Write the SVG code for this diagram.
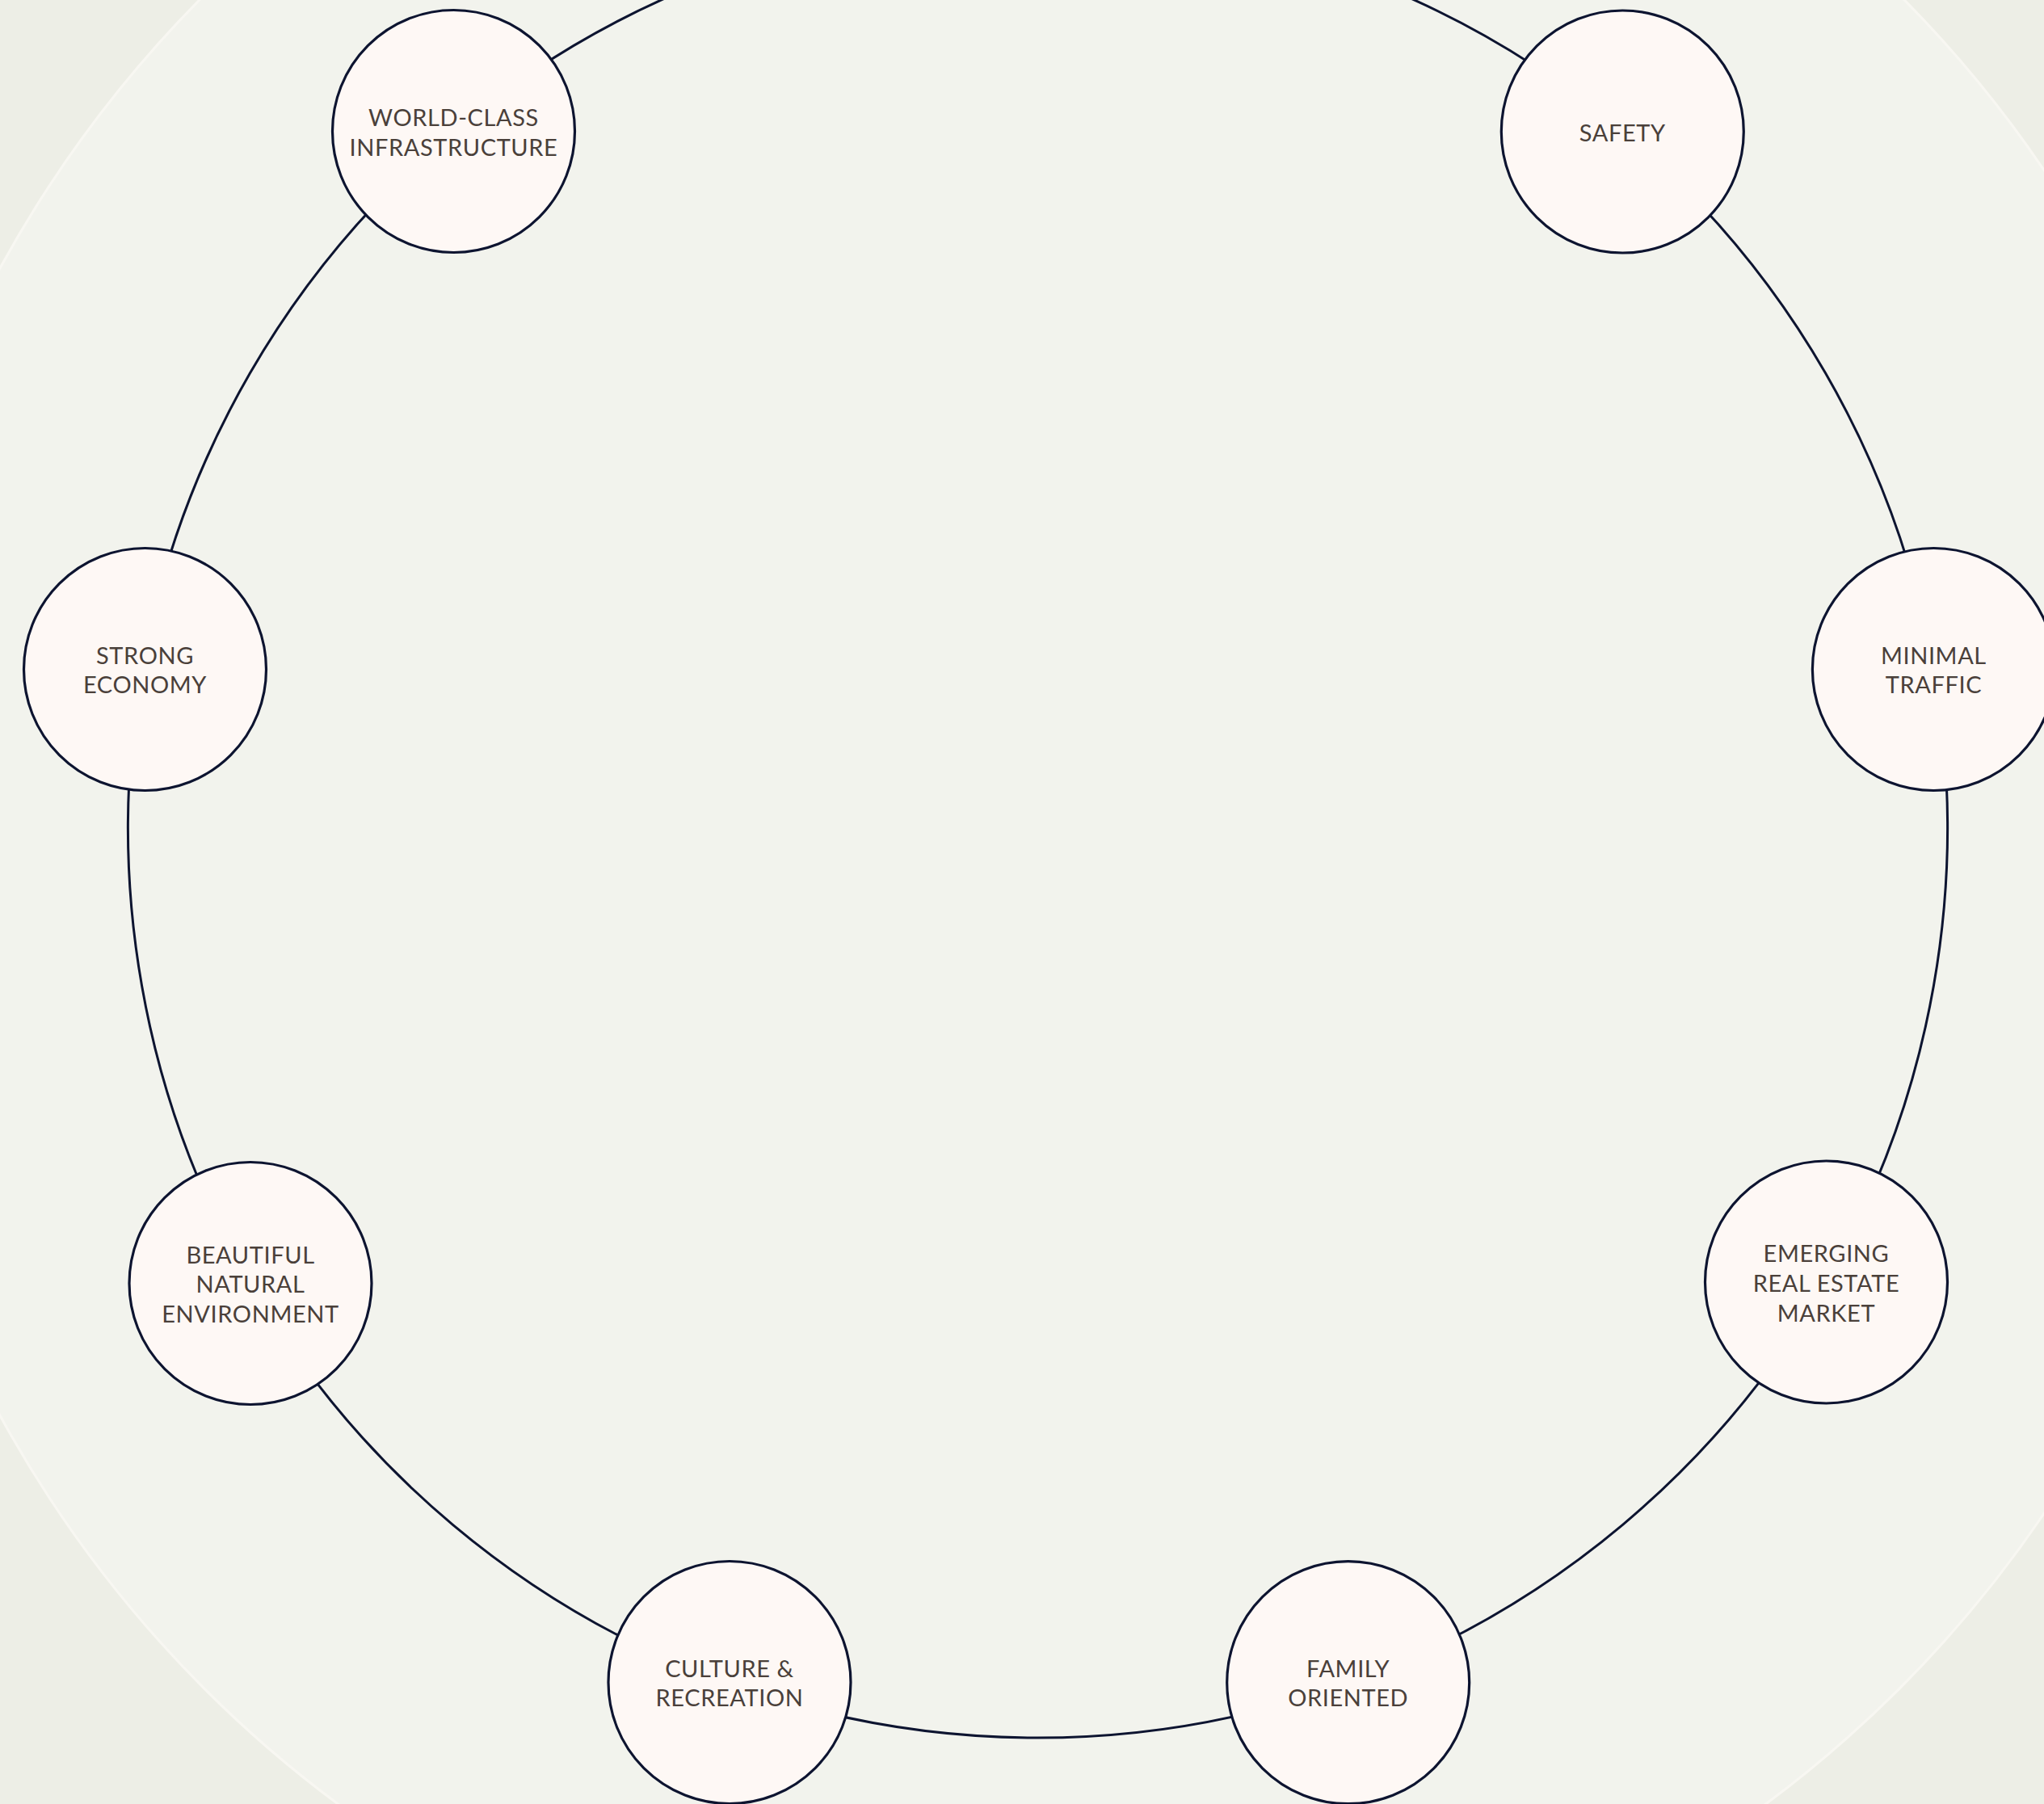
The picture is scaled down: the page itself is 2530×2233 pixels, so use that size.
<svg xmlns="http://www.w3.org/2000/svg" width="2530" height="2233" viewBox="0 0 2530 2233">
<style>
.node circle{fill:#FEF8F5;stroke:#0D1430;stroke-width:3.2}
.node text{font-family:Lato,"Open Sans","Liberation Sans",sans-serif;font-size:29px;fill:#4A403A;text-anchor:middle;letter-spacing:0.6px}
.ring path{fill:none;stroke:#0D1430;stroke-width:3}
</style>
<rect x="0" y="0" width="2530" height="2233" fill="#EDEEE6"/>
<circle cx="1302" cy="1042" r="1483" fill="#F2F3ED" stroke="#F8F7F2" stroke-width="3"/>
<g class="ring" id="connectors">
<path d="M560.7,162.5 A1126,1126 0 0 1 2008.3,162.5"/>
<path d="M2008.3,162.5 A1126,1126 0 0 1 2393.4,829.5"/>
<path d="M2393.4,829.5 A1126,1126 0 0 1 2259.6,1588"/>
<path d="M2259.6,1588 A1126,1126 0 0 1 1669.6,2083.1"/>
<path d="M1669.6,2083.1 A1126,1126 0 0 1 899.4,2083.1"/>
<path d="M899.4,2083.1 A1126,1126 0 0 1 309.4,1588"/>
<path d="M309.4,1588 A1126,1126 0 0 1 175.6,829.5"/>
<path d="M175.6,829.5 A1126,1126 0 0 1 560.7,162.5"/>
</g>
<g class="node" id="node-world-class">
<circle cx="561.5" cy="162.5" r="150"/>
<text x="561.5" y="155.5">WORLD-CLASS</text>
<text x="561.5" y="192.5">INFRASTRUCTURE</text>
</g>
<g class="node" id="node-safety">
<circle cx="2008.3" cy="163" r="150"/>
<text x="2008.3" y="175">SAFETY</text>
</g>
<g class="node" id="node-strong-economy">
<circle cx="179.5" cy="828.5" r="150"/>
<text x="179.5" y="821.5">STRONG</text>
<text x="179.5" y="858">ECONOMY</text>
</g>
<g class="node" id="node-minimal-traffic">
<circle cx="2393.4" cy="828.5" r="150"/>
<text x="2393.4" y="821.5">MINIMAL</text>
<text x="2393.4" y="858">TRAFFIC</text>
</g>
<g class="node" id="node-beautiful">
<circle cx="310" cy="1588.5" r="150"/>
<text x="310" y="1563.5">BEAUTIFUL</text>
<text x="310" y="1600">NATURAL</text>
<text x="310" y="1636.5">ENVIRONMENT</text>
</g>
<g class="node" id="node-emerging">
<circle cx="2260.5" cy="1587" r="150"/>
<text x="2260.5" y="1562.3">EMERGING</text>
<text x="2260.5" y="1599">REAL ESTATE</text>
<text x="2260.5" y="1635.7">MARKET</text>
</g>
<g class="node" id="node-culture">
<circle cx="903" cy="2082.5" r="150"/>
<text x="903" y="2075.5">CULTURE &amp;</text>
<text x="903" y="2112">RECREATION</text>
</g>
<g class="node" id="node-family">
<circle cx="1668.7" cy="2082.7" r="150"/>
<text x="1668.7" y="2075.7">FAMILY</text>
<text x="1668.7" y="2112.2">ORIENTED</text>
</g>
</svg>
